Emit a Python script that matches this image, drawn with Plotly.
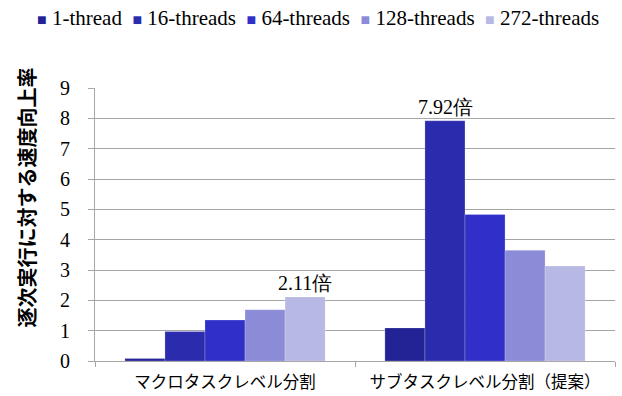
import plotly.graph_objects as go

categories = ["マクロタスクレベル分割", "サブタスクレベル分割（提案）"]
series_names = ["1-thread", "16-threads", "64-threads", "128-threads", "272-threads"]
v_1 = [0.08, 1.09]
v_16 = [0.97, 7.92]
v_64 = [1.35, 4.83]
v_128 = [1.69, 3.65]
v_272 = [2.11, 3.13]
colors = ["#232396", "#2B2BAE", "#3030C8", "#8B8BD8", "#B8B8E5"]
y_ticks = list(range(0, 10))
y_title = "逐次実行に対する速度向上率"

serif = "Liberation Serif"
cjk = "Noto Sans CJK JP"

fig = go.Figure()
for name, vals, c in zip(series_names, [v_1, v_16, v_64, v_128, v_272], colors):
    fig.add_trace(go.Bar(name=name, x=categories, y=vals,
                         marker=dict(color=c, line=dict(width=0.6, color="rgba(255,255,255,0.35)"))))

fig.add_annotation(x=categories[0], y=v_272[0], text="2.11倍", showarrow=False,
                   xshift=80, yshift=14, font=dict(family=serif, size=20, color="#000"))
fig.add_annotation(x=categories[1], y=v_16[1], text="7.92倍", showarrow=False,
                   xshift=-40, yshift=14, font=dict(family=serif, size=20, color="#000"))

# legend as text row
legend_text = "  ".join(
    f"<span style='color:{c};font-size:16px'>■</span> {n}" for n, c in zip(series_names, colors)
)
fig.add_annotation(xref="paper", yref="paper", x=0.428, y=1.0, yshift=70, xanchor="center",
                   yanchor="middle", text=legend_text, showarrow=False,
                   font=dict(family=serif, size=21, color="#000"))

# y axis title
fig.add_annotation(xref="paper", yref="paper", x=-0.132, y=0.6, textangle=-90,
                   text=f"<b>{y_title}</b>", showarrow=False, xanchor="center", yanchor="middle",
                   font=dict(family=cjk, size=20, color="#000"))

fig.update_layout(
    width=622, height=396,
    margin=dict(l=95, r=7, t=88, b=35),
    barmode="group", bargap=0.23, bargroupgap=0,
    plot_bgcolor="white", paper_bgcolor="white",
    showlegend=False,
    xaxis=dict(showline=True, linecolor="#A6A6A6", ticks="outside", tickson="boundaries",
               ticklen=5, tickcolor="#A6A6A6", ticklabelstandoff=6, automargin=False,
               tickfont=dict(family=cjk, size=16.5, color="#000")),
    yaxis=dict(range=[0, 9], tickvals=y_ticks, showgrid=True, gridcolor="#A6A6A6",
               showline=True, linecolor="#A6A6A6", ticks="outside", ticklen=6, tickcolor="#A6A6A6",
               ticklabelstandoff=14, zeroline=False, automargin=False,
               tickfont=dict(family=serif, size=20, color="#000")),
)
fig.write_html("out.html")
